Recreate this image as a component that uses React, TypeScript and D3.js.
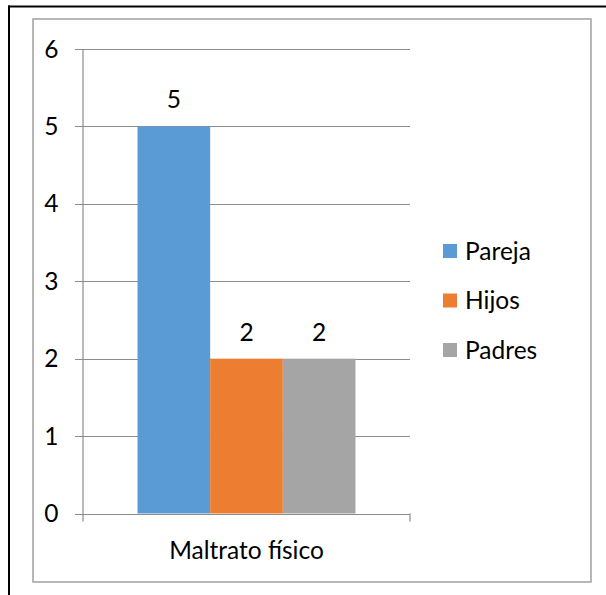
import React from "react";
import * as d3 from "d3";

const categories = ["Maltrato físico"];
const seriesNames = ["Pareja", "Hijos", "Padres"];
const seriesValues = [[5], [2], [2]];
const seriesColors = ["#5B9BD5", "#ED7D31", "#A5A5A5"];
const yTicks = [0, 1, 2, 3, 4, 5, 6];

const FONT = "Lato, 'Open Sans', sans-serif";

export default function App() {
  const W = 606, H = 595;
  const plotLeft = 83, plotRight = 410, plotTop = 49, plotBottom = 513.5;
  const y = d3.scaleLinear().domain([0, 6]).range([plotBottom, plotTop]);
  const x = d3.scaleBand<string>().domain(categories).range([plotLeft, plotRight]).padding(0);
  const xs = d3.scaleBand<string>().domain(seriesNames).range([0, x.bandwidth()]).paddingInner(0).paddingOuter(0.75);
  const gridColor = "#8c8c8c";
  const fs = 24.5;

  return (
    <svg width={W} height={H} style={{ position: "absolute", left: 0, top: 0, background: "#fff" }}>
      <rect x={0} y={0} width={W} height={H} fill="#fff" />
      <line x1={8} x2={W} y1={6.5} y2={6.5} stroke="#000" strokeWidth={2} />
      <line x1={9} x2={9} y1={5.5} y2={H} stroke="#000" strokeWidth={2} />
      <rect x={33} y={19} width={558} height={563} fill="none" stroke="#a0a0a0" strokeWidth={1.5} />
      {yTicks.map((t) => (
        <g key={t}>
          <line x1={plotLeft - 8} x2={plotRight} y1={Math.round(y(t)) + 0.5} y2={Math.round(y(t)) + 0.5} stroke={gridColor} strokeWidth={1} />
          <text x={58.5} y={y(t)} dy="0.35em" textAnchor="end" fontFamily={FONT} fontSize={fs} fill="#000">{t}</text>
        </g>
      ))}
      <line x1={plotLeft} x2={plotLeft} y1={plotTop} y2={plotBottom + 8} stroke={gridColor} strokeWidth={1.2} />
      <line x1={plotRight} x2={plotRight} y1={plotBottom} y2={plotBottom + 8} stroke={gridColor} strokeWidth={1.2} />
      {categories.map((c, ci) => (
        <g key={c}>
          {seriesNames.map((s, si) => {
            const v = seriesValues[si][ci];
            const bx = (x(c) as number) + (xs(s) as number);
            return (
              <g key={s}>
                <rect x={bx} y={y(v)} width={xs.bandwidth()} height={y(0) - y(v)} fill={seriesColors[si]} />
                <text x={bx + xs.bandwidth() / 2} y={y(v) - 18} textAnchor="middle" fontFamily={FONT} fontSize={fs} fill="#000">{v}</text>
              </g>
            );
          })}
          <text x={(x(c) as number) + x.bandwidth() / 2} y={550} dy="0.35em" textAnchor="middle" fontFamily={FONT} fontSize={fs} fill="#000">{c}</text>
        </g>
      ))}
      {seriesNames.map((s, i) => {
        const cy = 251 + i * 49.5;
        return (
          <g key={s}>
            <rect x={443} y={cy - 7} width={14} height={14} fill={seriesColors[i]} />
            <text x={465} y={cy} dy="0.35em" fontFamily={FONT} fontSize={fs} fill="#000">{s}</text>
          </g>
        );
      })}
    </svg>
  );
}
